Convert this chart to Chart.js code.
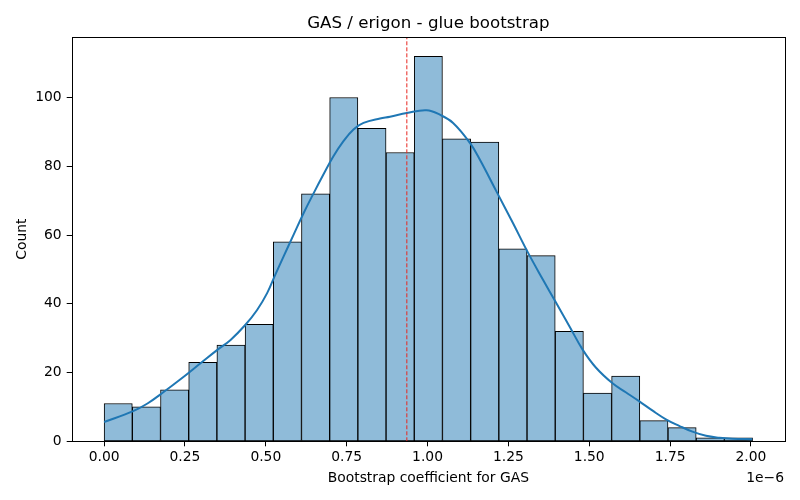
<!DOCTYPE html>
<html><head><meta charset="utf-8">
<script src="https://cdn.jsdelivr.net/npm/chart.js@4"></script>
<style>html,body{margin:0;padding:0;background:#fff}</style>
</head><body>
<canvas id="c" width="800" height="500"></canvas>
<script>
// values on x axis are in units of 1e-6
const binCounts = [11, 10, 15, 23, 28, 34, 58, 72, 100, 91, 84, 112, 88, 87, 56, 54, 32, 14, 19, 6, 4, 1, 1];
const binStart = 0.0;
const binEnd = 2.005;
const kdeX = [0.000, 0.088, 0.134, 0.185, 0.237, 0.298, 0.350, 0.391, 0.437, 0.473, 0.504, 0.529, 0.555, 0.586, 0.617, 0.648, 0.678, 0.709, 0.740, 0.771, 0.802, 0.853, 0.884, 0.936, 0.997, 1.038, 1.079, 1.131, 1.162, 1.213, 1.264, 1.311, 1.357, 1.398, 1.439, 1.480, 1.521, 1.573, 1.614, 1.655, 1.696, 1.737, 1.778, 1.819, 1.861, 1.902, 1.943, 2.004];
const kdeY = [5.6, 8.7, 11.0, 14.4, 18.1, 22.7, 26.6, 29.5, 33.9, 38.2, 43.1, 48.4, 53.8, 60.1, 66.4, 72.2, 77.6, 82.9, 87.3, 90.7, 92.6, 93.9, 94.4, 95.5, 96.3, 95.0, 92.6, 86.8, 81.9, 72.7, 63.5, 54.8, 47.0, 40.2, 33.4, 26.6, 21.4, 16.8, 14.2, 11.6, 8.9, 6.4, 4.5, 2.8, 1.6, 1.05, 0.75, 0.6];
const meanValue = 0.936;
const xTicks = [0.00, 0.25, 0.50, 0.75, 1.00, 1.25, 1.50, 1.75, 2.00];
const yTicks = [0, 20, 40, 60, 80, 100];
const titleText = 'GAS / erigon - glue bootstrap';
const xLabel = 'Bootstrap coefficient for GAS';
const yLabel = 'Count';
const offsetText = '1e\u22126';

const binWidth = (binEnd - binStart) / binCounts.length;
const barData = binCounts.map((c, i) => ({x: binStart + (i + 0.5) * binWidth, y: c}));
const kdeData = kdeX.map((x, i) => ({x: x, y: kdeY[i]}));
const span = binEnd - binStart;
const xMin = binStart - 0.05 * span, xMax = binEnd + 0.05 * span;
const yMax = Math.max(...binCounts) * 1.05;
const FONT = 'DejaVu Sans';

const decor = {
  id: 'decor',
  afterDraw(chart) {
    const ctx = chart.ctx, a = chart.chartArea;
    ctx.save();
    ctx.strokeStyle = '#000'; ctx.lineWidth = 1;
    ctx.strokeRect(Math.round(a.left) + 0.5, Math.round(a.top) + 0.5, Math.round(a.right - a.left), Math.round(a.bottom - a.top));
    ctx.fillStyle = '#000';
    ctx.textBaseline = 'middle';
    ctx.textAlign = 'center';
    ctx.font = '16.67px "' + FONT + '"';
    ctx.fillText(titleText, (a.left + a.right) / 2, 24);
    ctx.font = '13.89px "' + FONT + '"';
    ctx.fillText(xLabel, (a.left + a.right) / 2, 478);
    ctx.textAlign = 'right';
    ctx.fillText(offsetText, a.right - 1, 478);
    ctx.translate(22, (a.top + a.bottom) / 2);
    ctx.rotate(-Math.PI / 2);
    ctx.textAlign = 'center';
    ctx.fillText(yLabel, 0, 0);
    ctx.restore();
  }
};

new Chart(document.getElementById('c'), {
  data: {
    datasets: [
      { type: 'line', data: [{x: meanValue, y: 0}, {x: meanValue, y: yMax}], borderColor: '#e8261f', borderWidth: 1, borderDash: [4, 2], pointRadius: 0, order: 1 },
      { type: 'line', data: kdeData, borderColor: '#1f77b4', borderWidth: 2, pointRadius: 0, tension: 0.4, order: 2 },
      { type: 'bar', data: barData, backgroundColor: '#8fbbd9', borderColor: '#000', borderWidth: 1, borderSkipped: false, barPercentage: 1, categoryPercentage: 1, grouped: false, order: 3 }
    ]
  },
  options: {
    responsive: false, animation: false, devicePixelRatio: 1,
    layout: { padding: { top: 37, right: 15, left: 0, bottom: 0 } },
    plugins: { legend: { display: false }, tooltip: { enabled: false }, title: { display: false } },
    scales: {
      x: {
        type: 'linear', min: xMin, max: xMax, offset: false,
        afterBuildTicks: s => { s.ticks = xTicks.map(v => ({value: v})); },
        afterFit: s => { s.height = 58.7; },
        ticks: { callback: v => v.toFixed(2), color: '#000', font: { family: FONT, size: 13.89 }, maxRotation: 0, autoSkip: false, padding: 3 },
        grid: { drawOnChartArea: false, drawTicks: true, tickLength: 5, tickColor: '#000', offset: false },
        border: { display: false }
      },
      y: {
        type: 'linear', min: 0, max: yMax,
        afterBuildTicks: s => { s.ticks = yTicks.map(v => ({value: v})); },
        afterFit: s => { s.width = 71.7; },
        ticks: { callback: v => String(v), color: '#000', font: { family: FONT, size: 13.89 }, padding: 5 },
        grid: { drawOnChartArea: false, drawTicks: true, tickLength: 5, tickColor: '#000' },
        border: { display: false }
      }
    }
  },
  plugins: [decor]
});
</script>
</body></html>
